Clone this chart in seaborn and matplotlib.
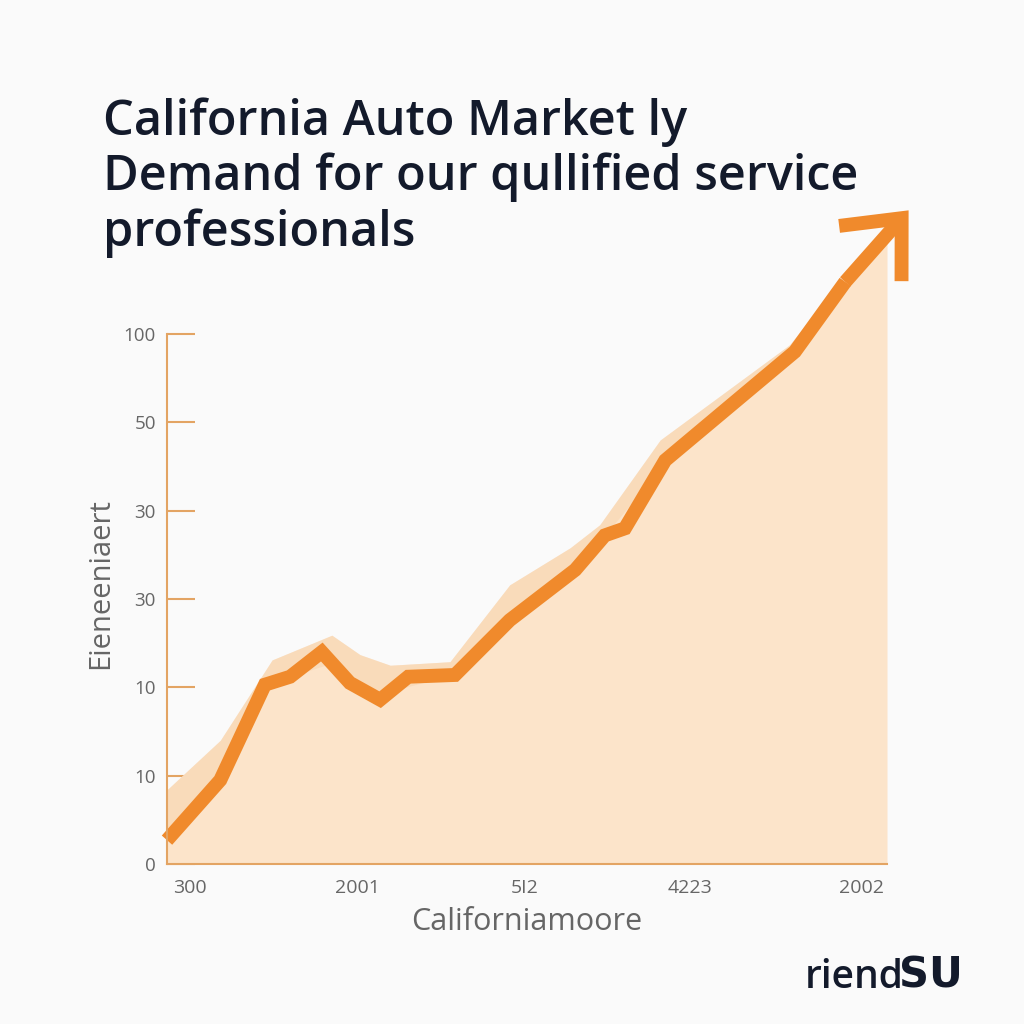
import matplotlib
matplotlib.use("Agg")
import matplotlib.pyplot as plt
import seaborn as sns
import numpy as np
import pandas as pd

# ---- data ----
line_x = [0.0, 0.74, 1.36, 1.71, 2.15, 2.54, 2.96, 3.35, 4.0, 4.76, 5.67, 6.08, 6.36, 6.92, 8.72, 9.42]
line_y = [0.27, 0.95, 2.03, 2.12, 2.40, 2.05, 1.86, 2.12, 2.14, 2.76, 3.33, 3.72, 3.80, 4.57, 5.80, 6.59]
arrow_end = (10.3, 7.4)

band_x = [0.0, 0.74, 1.46, 2.29, 2.68, 3.10, 3.93, 4.76, 5.60, 6.01, 6.85, 8.65, 9.42, 10.0]
band_y = [0.84, 1.40, 2.31, 2.59, 2.37, 2.25, 2.29, 3.16, 3.58, 3.84, 4.80, 5.88, 6.67, 7.12]

ytick_pos = [0, 1, 2, 3, 4, 5, 6]
ytick_labels = ["0", "10", "10", "30", "30", "50", "100"]
xtick_pos = [0.32, 2.64, 4.97, 7.26, 9.65]
xtick_labels = ["300", "2001", "5I2", "4223", "2002"]

title = "California Auto Market ly\nDemand for our qullified service\nprofessionals"
xlabel = "Californiamoore"
ylabel = "Eieneeniaert"

# ---- style ----
sns.set_style("white")
plt.rcParams['font.family'] = ['Open Sans', 'DejaVu Sans']

BG = "#fafafa"
ORANGE = "#f08a2c"
PEACH = "#fce4ca"
PEACH2 = "#f8d4ae"
SPINE = "#e3a463"
NAVY = "#131a2b"
GRAY = "#666666"

fig = plt.figure(figsize=(10.24, 10.24), dpi=100, facecolor=BG)
ax = fig.add_axes([167/1024, 1-864/1024, 720/1024, 530/1024])
ax.set_facecolor(BG)

# area
bx = np.array(band_x)
by = np.array(band_y)
ax.fill_between(bx, 0, by, color=PEACH, lw=0, clip_on=False, zorder=1)
full_lx = list(line_x) + [arrow_end[0]]
full_ly = list(line_y) + [arrow_end[1]]
ly_on_band = np.interp(bx, full_lx, full_ly)
ax.fill_between(bx, np.minimum(ly_on_band, by), by, color=PEACH2, alpha=0.55, lw=0,
                clip_on=False, zorder=1.5)

# line
df = pd.DataFrame({"x": line_x, "y": line_y})
sns.lineplot(data=df, x="x", y="y", ax=ax, color=ORANGE, lw=10, sort=False,
             solid_joinstyle="miter", solid_capstyle="butt", clip_on=False, zorder=3)
ax.annotate("", xy=arrow_end, xytext=(line_x[-1], line_y[-1]),
            arrowprops=dict(arrowstyle="->,head_length=1.7,head_width=1.5",
                            mutation_scale=20,
                            color=ORANGE, lw=10, shrinkA=0, shrinkB=0,
                            joinstyle="miter", capstyle="butt"),
            annotation_clip=False, zorder=4)

ax.set_xlim(0, 10)
ax.set_ylim(0, 6)

for s in ["top", "right"]:
    ax.spines[s].set_visible(False)
for s in ["left", "bottom"]:
    ax.spines[s].set_color(SPINE)
    ax.spines[s].set_linewidth(1.5)
    ax.spines[s].set_zorder(5)

ax.set_yticks(ytick_pos)
ax.set_yticklabels(ytick_labels)
ax.set_xticks(xtick_pos)
ax.set_xticklabels(xtick_labels)
ax.tick_params(axis="y", direction="in", length=20, width=1.5, color=SPINE,
               labelcolor=GRAY, labelsize=13.5, pad=8, left=True)
ax.tick_params(axis="x", direction="in", length=14, width=1.5, color=SPINE,
               labelcolor=GRAY, labelsize=14, pad=11, bottom=True)

ax.set_xlabel(xlabel, fontsize=22, color=GRAY, labelpad=7)
ax.set_ylabel(ylabel, fontsize=21, color=GRAY)
ax.yaxis.set_label_coords(-0.072, 0.53)

fig.text(103/1024, 1-97/1024, title, fontsize=35, color=NAVY, ha="left", va="top",
         linespacing=1.16, fontweight="semibold")

t1 = fig.text(805/1024, 1-988/1024, "riend", fontsize=28, color=NAVY, ha="left",
              va="baseline", fontweight="semibold")
fig.canvas.draw()
bb = t1.get_window_extent(renderer=fig.canvas.get_renderer())
fig.text((bb.x1 - 5)/1024, 1-988/1024, "SU", fontsize=30, color=NAVY, ha="left",
         va="baseline", fontweight="bold", family=["DejaVu Sans"])

fig.savefig("out.png", dpi=100, facecolor=BG)
